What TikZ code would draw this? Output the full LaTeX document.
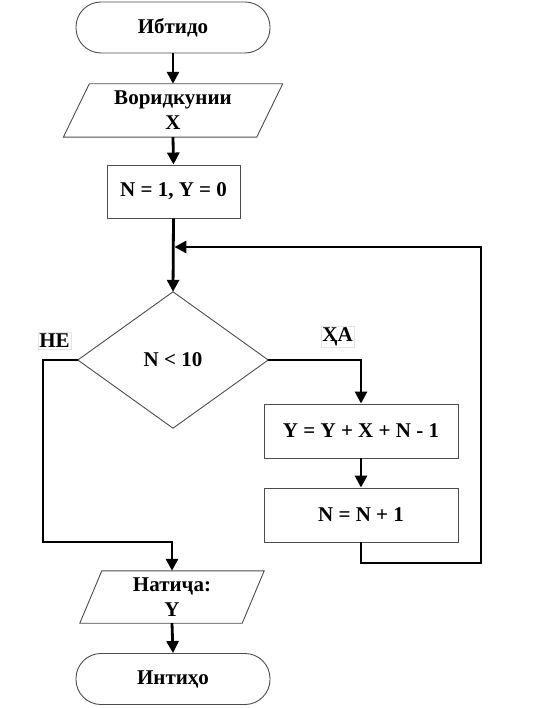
\documentclass[tikz,border=0pt]{standalone}
\usepackage{fontspec}
\setmainfont{Liberation Serif}
\usetikzlibrary{arrows.meta}
\begin{document}
\begin{tikzpicture}[x=1pt,y=-1pt,
  font=\fontsize{21}{22}\selectfont\bfseries,
  shapeline/.style={draw=black!70, line width=0.9pt},
  conn/.style={line width=2.8pt, -{Triangle[length=12pt,width=12pt]}},
  term/.style={shapeline, rectangle, rounded corners=25pt, minimum width=194pt, minimum height=51pt, inner sep=0pt},
  procbox/.style={shapeline, rectangle, minimum height=54pt, inner sep=0pt},
  iobox/.style={rectangle, inner sep=0pt, align=center},
  decbox/.style={rectangle, inner sep=0pt, minimum width=190pt, minimum height=136pt},
  lbl/.style={draw=black!10, line width=0.6pt, inner sep=1.5pt}
]
\useasboundingbox (0,0) rectangle (536,708);

% nodes
\node[term] (start) at (173,27.5) {Ибтидо};
\node[iobox, minimum width=219pt, minimum height=53pt] (in) at (173,110.5) {Воридкунии\\[3pt]X};
\draw[shapeline] ([xshift=26pt]in.north west) -- (in.north east) -- ([xshift=-26pt]in.south east) -- (in.south west) -- cycle;
\node[procbox, minimum width=133pt, minimum height=53pt] (init) at (173.5,191.5) {N = 1, Y = 0};
\node[decbox] (dec) at (173,360) {N < 10};
\draw[shapeline] (dec.north) -- (dec.east) -- (dec.south) -- (dec.west) -- cycle;
\node[procbox, minimum width=194pt] (b1) at (361,431) {Y = Y + X + N - 1};
\node[procbox, minimum width=194pt] (b2) at (361,515) {N = N + 1};
\node[iobox, minimum width=184pt, minimum height=52pt] (out) at (172,597) {Натиҷа:\\[3pt]Y};
\draw[shapeline] ([xshift=22pt]out.north west) -- (out.north east) -- ([xshift=-22pt]out.south east) -- (out.south west) -- cycle;
\node[term] (end) at (173,679) {Интиҳо};

\node[lbl] (no) at (54.5,341) {НЕ};
\node[lbl] (yes) at (337.5,336.5) {ҲА};

% helper coordinates
\coordinate (join) at (173,247);
\coordinate (loopR) at (481,563);
\coordinate (noL) at (43,542);

% connectors
\draw[conn] (start.south) -- (in.north);
\draw[conn] (in.south) -- (init.north);
\draw[conn] (init.south) -- (dec.north);
\draw[conn] (dec.east) -| (b1.north);
\draw[conn] (b1.south) -- (b2.north);
\draw[conn, shorten >=1.4pt] (b2.south) |- (loopR) |- (join);
\draw[conn] (dec.west) -| (noL) -| (out.north);
\draw[conn] (out.south) -- (end.north);
\end{tikzpicture}
\end{document}
